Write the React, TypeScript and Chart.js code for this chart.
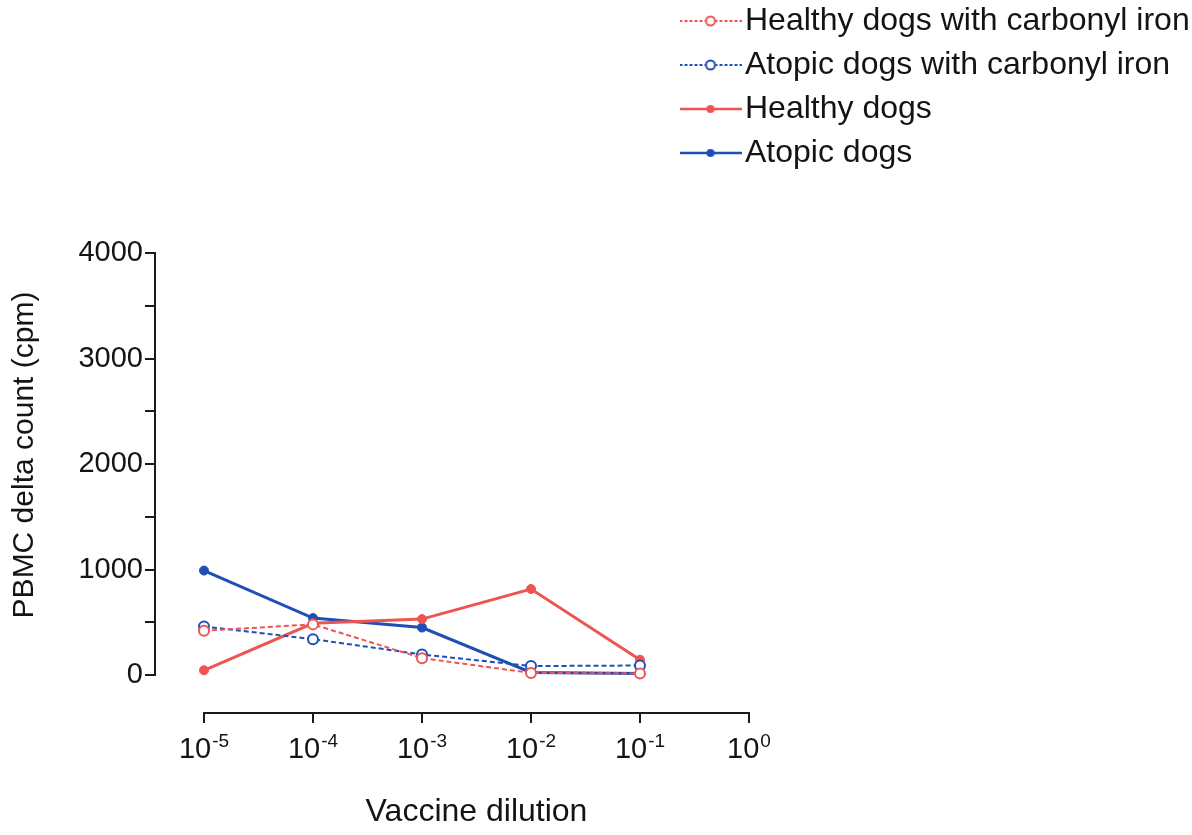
import React, { useEffect, useRef } from 'react';
import { Chart, registerables } from 'chart.js';

Chart.register(...registerables);

const FONT = '"Liberation Sans", Arial, Helvetica, sans-serif';
const TEXT = '#141414';
const AXIS = '#1a1a1a';
const RED = '#ee5552';
const BLUE = '#1f4fb6';

// Vaccine dilution as powers of ten (10^-5 ... 10^-1)
const dilutionExponents = [-5, -4, -3, -2, -1];

// PBMC delta count (cpm) per series
const healthyCarbonyl = [420, 480, 160, 20, 15];
const atopicCarbonyl = [460, 340, 195, 85, 90];
const healthyDogs = [45, 490, 530, 815, 145];
const atopicDogs = [990, 540, 450, 25, 15];

const seriesNames = [
  'Healthy dogs with carbonyl iron',
  'Atopic dogs with carbonyl iron',
  'Healthy dogs',
  'Atopic dogs',
];

const xTickExponents = [-5, -4, -3, -2, -1, 0];
const yTickValues = [0, 500, 1000, 1500, 2000, 2500, 3000, 3500, 4000];
const yLabelValues = [0, 1000, 2000, 3000, 4000];

// Scale ranges leave room so the axes sit apart from each other
const X_MIN = -5.4495;
const X_MAX = 0.4495;
const Y_MIN = -360;
const Y_MAX = 4531;

function makeLegendIcon(color: string, dashed: boolean): HTMLCanvasElement {
  const c = document.createElement('canvas');
  c.width = 62;
  c.height = 14;
  const g = c.getContext('2d')!;
  g.strokeStyle = color;
  g.lineWidth = dashed ? 2 : 2.5;
  if (dashed) g.setLineDash([3, 2]);
  g.beginPath();
  g.moveTo(0, 7);
  g.lineTo(62, 7);
  g.stroke();
  g.setLineDash([]);
  g.beginPath();
  g.arc(31, 7, dashed ? 4.5 : 4, 0, Math.PI * 2);
  if (dashed) {
    g.fillStyle = '#fff';
    g.fill();
    g.lineWidth = 2;
    g.stroke();
  } else {
    g.fillStyle = color;
    g.fill();
  }
  return c;
}

// Places the legend column in the upper right corner
const legendPlacement = {
  id: 'legendPlacement',
  afterLayout(chart: any) {
    const lg = chart.legend;
    if (!lg) return;
    lg.left = 680;
    lg.top = -7;
    lg.right = chart.width;
    lg.bottom = 200;
    lg.width = lg.right - lg.left;
    lg.height = lg.bottom - lg.top;
  },
};

// Axis lines spanning only the tick range, plus 10^n tick labels
const offsetAxes = {
  id: 'offsetAxes',
  beforeDatasetsDraw(chart: any) {
    const { ctx, chartArea } = chart;
    const x = chart.scales.x;
    const y = chart.scales.y;
    ctx.save();
    ctx.strokeStyle = AXIS;
    ctx.lineWidth = 2;
    ctx.lineCap = 'square';
    ctx.beginPath();
    ctx.moveTo(chartArea.left, y.getPixelForValue(yTickValues[yTickValues.length - 1]));
    ctx.lineTo(chartArea.left, y.getPixelForValue(yTickValues[0]));
    ctx.moveTo(x.getPixelForValue(xTickExponents[0]), chartArea.bottom);
    ctx.lineTo(x.getPixelForValue(xTickExponents[xTickExponents.length - 1]), chartArea.bottom);
    ctx.stroke();

    ctx.fillStyle = TEXT;
    ctx.textBaseline = 'alphabetic';
    ctx.textAlign = 'left';
    const baseline = chartArea.bottom + 45;
    xTickExponents.forEach((e) => {
      const px = x.getPixelForValue(e);
      const exp = String(e);
      ctx.font = `29px ${FONT}`;
      const bw = ctx.measureText('10').width;
      ctx.font = `19px ${FONT}`;
      const ew = ctx.measureText(exp).width;
      const start = px - (bw + 1 + ew) / 2;
      ctx.font = `29px ${FONT}`;
      ctx.fillText('10', start, baseline);
      ctx.font = `19px ${FONT}`;
      ctx.fillText(exp, start + bw + 1, baseline - 11);
    });
    ctx.restore();
  },
};

function points(values: number[]) {
  return dilutionExponents.map((e, i) => ({ x: e, y: values[i] }));
}

export default function App() {
  const ref = useRef<HTMLCanvasElement>(null);

  useEffect(() => {
    const canvas = ref.current;
    if (!canvas) return;

    const icons = [
      makeLegendIcon(RED, true),
      makeLegendIcon(BLUE, true),
      makeLegendIcon(RED, false),
      makeLegendIcon(BLUE, false),
    ];

    const dashed = (color: string) => ({
      borderColor: color,
      borderWidth: 2,
      borderDash: [5, 3],
      pointRadius: 5,
      pointBorderWidth: 2,
      pointBackgroundColor: '#ffffff',
      pointBorderColor: color,
    });
    const solid = (color: string) => ({
      borderColor: color,
      borderWidth: 3,
      pointRadius: 4.5,
      pointBorderWidth: 1,
      pointBackgroundColor: color,
      pointBorderColor: color,
    });

    const chart = new Chart(canvas, {
      type: 'line',
      data: {
        datasets: [
          { label: seriesNames[0], data: points(healthyCarbonyl), ...dashed(RED) },
          { label: seriesNames[1], data: points(atopicCarbonyl), ...dashed(BLUE) },
          { label: seriesNames[2], data: points(healthyDogs), ...solid(RED) },
          { label: seriesNames[3], data: points(atopicDogs), ...solid(BLUE) },
        ],
      },
      options: {
        animation: false,
        responsive: false,
        events: [],
        layout: { padding: { top: 197, right: 394, bottom: 0, left: 0 } },
        elements: { line: { tension: 0 } },
        scales: {
          x: {
            type: 'linear',
            min: X_MIN,
            max: X_MAX,
            afterBuildTicks: (scale: any) => {
              scale.ticks = xTickExponents.map((v) => ({ value: v }));
            },
            afterFit: (scale: any) => {
              scale.height = 122;
            },
            grid: {
              display: true,
              drawOnChartArea: false,
              drawTicks: true,
              tickLength: 10,
              lineWidth: 2,
              color: AXIS,
            },
            border: { display: false },
            ticks: { display: false },
            title: {
              display: true,
              text: 'Vaccine dilution',
              color: TEXT,
              font: { family: FONT, size: 32 },
              padding: { top: 4, bottom: 4 },
            },
          },
          y: {
            type: 'linear',
            min: Y_MIN,
            max: Y_MAX,
            afterBuildTicks: (scale: any) => {
              scale.ticks = yTickValues.map((v) => ({ value: v }));
            },
            afterFit: (scale: any) => {
              scale.width = 155;
            },
            grid: {
              display: true,
              drawOnChartArea: false,
              drawTicks: true,
              tickLength: 10,
              lineWidth: 2,
              color: AXIS,
            },
            border: { display: false },
            ticks: {
              autoSkip: false,
              padding: 2,
              color: TEXT,
              font: { family: FONT, size: 29 },
              callback: (v: any) => (yLabelValues.includes(Number(v)) ? String(v) : ''),
            },
            title: {
              display: true,
              text: 'PBMC delta count (cpm)',
              color: TEXT,
              font: { family: FONT, size: 30 },
              padding: { top: 7, bottom: 4 },
            },
          },
        },
        plugins: {
          tooltip: { enabled: false },
          legend: {
            display: true,
            position: 'chartArea',
            align: 'start',
            labels: {
              usePointStyle: true,
              pointStyleWidth: 37,
              padding: 12,
              color: TEXT,
              font: { family: FONT, size: 32 },
              generateLabels: (c: any) =>
                Chart.defaults.plugins.legend.labels
                  .generateLabels(c)
                  .map((item: any, i: number) => ({ ...item, pointStyle: icons[i] })),
            },
          },
        },
      },
      plugins: [legendPlacement, offsetAxes],
    } as any);

    return () => chart.destroy();
  }, []);

  return (
    <div
      style={{
        position: 'absolute',
        left: 0,
        top: 0,
        width: 1192,
        height: 835,
        background: '#ffffff',
      }}
    >
      <canvas ref={ref} width={1192} height={835} style={{ display: 'block', width: 1192, height: 835 }} />
    </div>
  );
}
